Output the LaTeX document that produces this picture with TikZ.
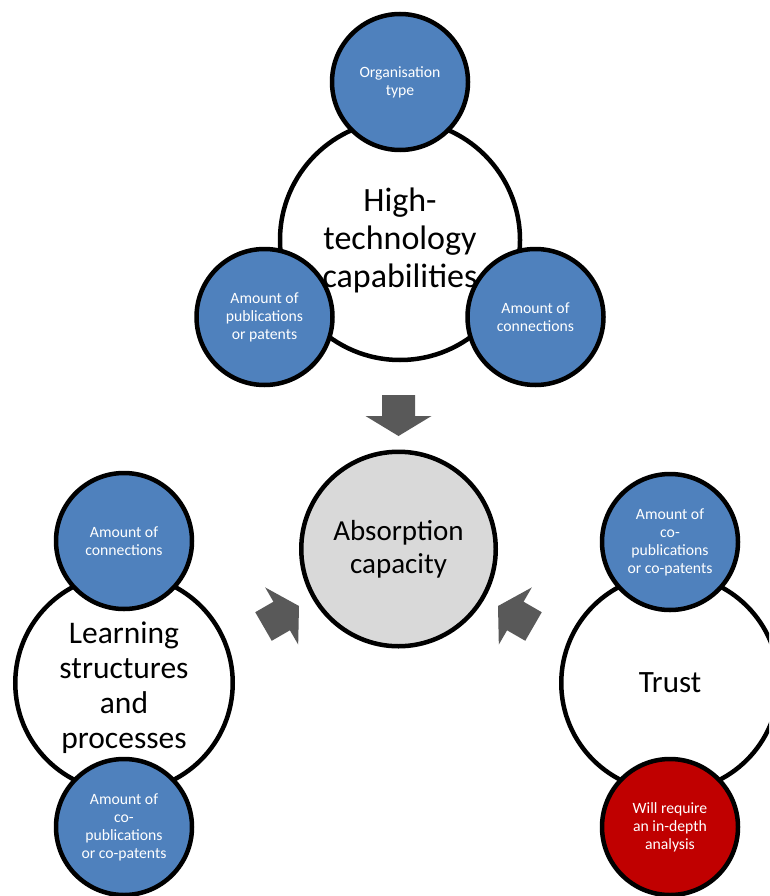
\documentclass[tikz,border=0pt]{standalone}
\usepackage{fontspec}
\setmainfont{Carlito}
\definecolor{capblue}{HTML}{4F81BD}
\definecolor{capred}{HTML}{C00000}
\definecolor{arrowgray}{HTML}{595959}
\definecolor{corefill}{HTML}{D9D9D9}
\begin{document}
\begin{tikzpicture}[x=1pt,y=-1pt,
  ring/.style={circle, draw=black, line width=4.5pt, inner sep=0pt, align=center},
  hub/.style={ring, fill=white, minimum size=217.5pt},
  item/.style={ring, fill=capblue, minimum size=136pt, text=white,
    font=\fontsize{15.7}{18}\selectfont},
  alert/.style={item, fill=capred},
  blockarrow/.style={fill=arrowgray, draw=none},
]
\useasboundingbox (0,0) rectangle (769,896);
\clip (0,0) rectangle (769,896);

% block arrow shape, tip at the origin, pointing down
\def\blockarrowpath{(0,0) -- (33,-20) -- (16.5,-20) -- (16.5,-41) -- (-16.5,-41) -- (-16.5,-20) -- (-33,-20) -- cycle}

% high-technology capabilities cluster
\node[hub, minimum size=240pt, font=\fontsize{34}{38}\selectfont] (tech) at (400,240)
  {High-\\technology\\capabilities};
\node[item] (orgtype) at (400,82) {Organisation\\type};
\node[item] (pubs) at (264.5,317) {Amount of\\publications\\or patents};
\node[item] (conn) at (535.5,317) {Amount of\\connections};

% absorption capacity in the middle
\node[ring, fill=corefill, minimum size=194.5pt, font=\fontsize{29}{33}\selectfont] (absorb) at (398.5,549)
  {Absorption\\capacity};

% learning structures cluster
\node[hub] (learn) at (124,683) {};
\node[font=\fontsize{31.5}{35}\selectfont, align=center, inner sep=0pt] (learntext) at (124,688)
  {Learning\\structures\\and\\processes};
\node[item] (learnconn) at (124,541) {Amount of\\connections};
\node[item] (learnco) at (124,827) {Amount of\\co-\\publications\\or co-patents};

% trust cluster
\node[hub, font=\fontsize{31}{35}\selectfont] (trust) at (670,683) {Trust};
\node[item] (trustco) at (670,542) {Amount of\\co-\\publications\\or co-patents};
\node[alert] (depth) at (670,827) {Will require\\an in-depth\\analysis};

% arrows into the absorption capacity
\path[blockarrow, shift={(398.5,436)}] \blockarrowpath;
\path[blockarrow, shift={(299,606)}, rotate=120] \blockarrowpath;
\path[blockarrow, shift={(498,606)}, rotate=-120] \blockarrowpath;
\end{tikzpicture}
\end{document}
